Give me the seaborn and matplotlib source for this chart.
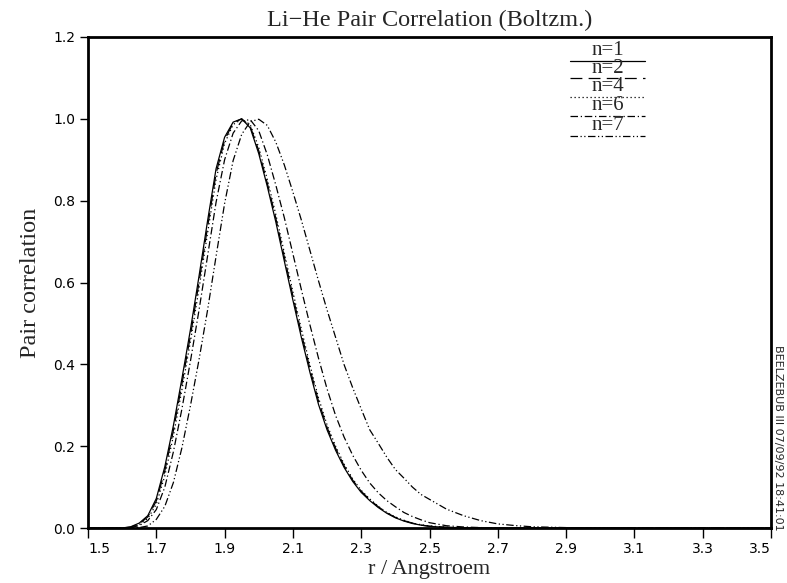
import numpy as np
import pandas as pd
import matplotlib
matplotlib.use("Agg")
import matplotlib.pyplot as plt
import seaborn as sns

# ---------------- data ----------------
r = [1.50, 1.55, 1.60, 1.625, 1.65, 1.675, 1.70, 1.725, 1.75, 1.775, 1.80, 1.825,
     1.85, 1.875, 1.90, 1.925, 1.95, 1.975, 2.00, 2.025, 2.05, 2.075, 2.10, 2.125,
     2.15, 2.175, 2.20, 2.225, 2.25, 2.275, 2.30, 2.325, 2.35, 2.375, 2.40, 2.425,
     2.45, 2.475, 2.50, 2.55, 2.60, 2.65, 2.70, 2.75, 2.80, 2.90, 3.00, 3.50]

g_n1 = [0, 0, 0.000, 0.003, 0.012, 0.030, 0.072, 0.150, 0.250, 0.365, 0.485, 0.615,
        0.750, 0.878, 0.955, 0.992, 1.000, 0.978, 0.915, 0.835, 0.748, 0.652, 0.557, 0.465,
        0.380, 0.302, 0.240, 0.190, 0.148, 0.114, 0.087, 0.067, 0.050, 0.036, 0.025, 0.017,
        0.011, 0.007, 0.004, 0.0015, 0.0005, 0, 0, 0, 0, 0, 0, 0]

g_n2 = [0, 0, 0.000, 0.002, 0.010, 0.027, 0.066, 0.140, 0.238, 0.352, 0.470, 0.600,
        0.735, 0.866, 0.948, 0.990, 1.000, 0.982, 0.922, 0.843, 0.757, 0.662, 0.567, 0.475,
        0.389, 0.310, 0.246, 0.195, 0.152, 0.117, 0.090, 0.069, 0.052, 0.037, 0.026, 0.018,
        0.012, 0.007, 0.0045, 0.0016, 0.0005, 0, 0, 0, 0, 0, 0, 0]

g_n4 = [0, 0, 0.000, 0.001, 0.008, 0.023, 0.058, 0.128, 0.225, 0.338, 0.456, 0.585,
        0.720, 0.852, 0.940, 0.986, 0.999, 0.986, 0.930, 0.852, 0.766, 0.672, 0.577, 0.485,
        0.398, 0.318, 0.252, 0.200, 0.156, 0.120, 0.092, 0.071, 0.053, 0.038, 0.027, 0.019,
        0.012, 0.008, 0.005, 0.0018, 0.0006, 0, 0, 0, 0, 0, 0, 0]

g_n6 = [0, 0, 0.000, 0.001, 0.006, 0.018, 0.045, 0.100, 0.186, 0.291, 0.408, 0.532,
        0.664, 0.796, 0.900, 0.965, 0.995, 0.998, 0.971, 0.912, 0.838, 0.758, 0.670, 0.582,
        0.496, 0.415, 0.340, 0.275, 0.222, 0.178, 0.141, 0.110, 0.086, 0.067, 0.052, 0.038,
        0.028, 0.020, 0.013, 0.0055, 0.0025, 0.001, 0.0003, 0, 0, 0, 0, 0]

g_n7 = [0, 0, 0.000, 0.000, 0.001, 0.005, 0.021, 0.053, 0.111, 0.196, 0.299, 0.411,
        0.532, 0.664, 0.793, 0.898, 0.962, 0.993, 0.999, 0.984, 0.943, 0.887, 0.821, 0.752,
        0.678, 0.604, 0.533, 0.466, 0.399, 0.343, 0.291, 0.240, 0.207, 0.173, 0.143, 0.122,
        0.100, 0.082, 0.070, 0.046, 0.030, 0.018, 0.010, 0.006, 0.003, 0.001, 0, 0]

labels = ["n=1", "n=2", "n=4", "n=6", "n=7"]
series = [g_n1, g_n2, g_n4, g_n6, g_n7]
x_ticks = [1.5, 1.7, 1.9, 2.1, 2.3, 2.5, 2.7, 2.9, 3.1, 3.3, 3.5]
y_ticks = [0.0, 0.2, 0.4, 0.6, 0.8, 1.0, 1.2]

df = pd.concat([pd.DataFrame({"r": r, "g": s, "n": lab}) for lab, s in zip(labels, series)],
               ignore_index=True)

# ---------------- style ----------------
sns.set_style("white")
plt.rcParams["font.family"] = ["DejaVu Sans"]

dash_map = {
    "n=1": "",
    "n=2": (9.5, 5.0),
    "n=4": (1.0, 2.2),
    "n=6": (6.0, 2.2, 1.0, 2.2),
    "n=7": (6.0, 2.0, 1.0, 2.0, 1.0, 2.0),
}

fig = plt.figure(figsize=(7.87, 5.83), dpi=100)
ax = fig.add_axes([88 / 787, 1 - 528 / 583, (771 - 88) / 787, (528 - 37) / 583])

sns.lineplot(data=df, x="r", y="g", style="n", dashes=dash_map, color="black",
             linewidth=0.9, estimator=None, sort=False, legend=False, ax=ax)

ax.set_xlim(1.5, 3.5)
ax.set_ylim(0.0, 1.2)
ax.set_xticks(x_ticks)
ax.set_yticks(y_ticks)
ax.set_xticklabels([f"{v:.1f}" for v in x_ticks])
ax.set_yticklabels([f"{v:.1f}" for v in y_ticks])
ax.tick_params(axis="both", direction="out", length=6, width=1.0, color="black",
               labelsize=10, labelcolor="black", pad=3)
ax.tick_params(axis="x", bottom=True, length=7)
ax.tick_params(axis="y", left=True)
xtl = ax.get_xticklabels()
xtl[0].set_horizontalalignment("left")
xtl[-1].set_horizontalalignment("right")
for sp in ax.spines.values():
    sp.set_visible(True)
    sp.set_color("black")
    sp.set_linewidth(2.0)

serif = ["Liberation Serif", "DejaVu Serif"]
ax.set_title("Li\u2212He Pair Correlation (Boltzm.)", family=serif, fontsize=17.5, pad=8)
ax.set_xlabel("r / Angstroem", family=serif, fontsize=16, labelpad=3)
ax.set_ylabel("Pair correlation", family=serif, fontsize=17.5, labelpad=9)

# legend: text centred above each line sample
x0, x1 = (570 - 88) / 683, (645 - 88) / 683
ys = [0.951, 0.9155, 0.877, 0.8385, 0.798]
for lab, yy in zip(labels, ys):
    d = dash_map[lab]
    ln, = ax.plot([x0, x1], [yy, yy], transform=ax.transAxes, color="black", linewidth=0.9)
    if d:
        ln.set_dashes(d)
    ax.text((x0 + x1) / 2, yy + 0.002, lab, transform=ax.transAxes, ha="center",
            va="bottom", family=serif, fontsize=15)

fig.text(778 / 787, 1 - 438 / 583, "BEELZEBUB III 07/09/92 18:41:01", rotation=270,
         ha="center", va="center", fontsize=8, family="DejaVu Sans")

fig.savefig("out.png", dpi=100, facecolor="white")
